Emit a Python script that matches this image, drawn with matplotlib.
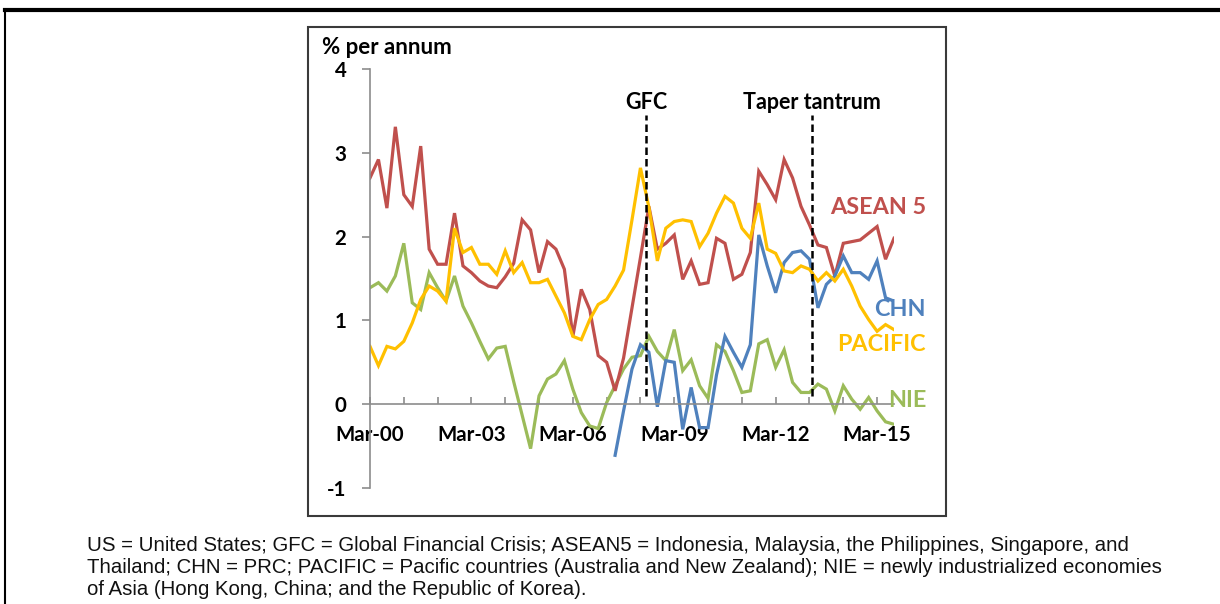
import numpy as np
import matplotlib
matplotlib.use("Agg")
import matplotlib.pyplot as plt
from matplotlib.patches import Rectangle
from matplotlib.lines import Line2D

# quarterly categories, Mar-00 .. Sep-15
months = ["Mar", "Jun", "Sep", "Dec"]
quarters = [f"{m}-{y % 100:02d}" for y in range(2000, 2016) for m in months][:63]
tick_labels = ["Mar-00", "Mar-03", "Mar-06", "Mar-09", "Mar-12", "Mar-15"]

asean5 = [2.70, 2.92, 2.34, 3.31, 2.50, 2.36, 3.08, 1.85, 1.67, 1.67,
          2.28, 1.65, 1.57, 1.47, 1.41, 1.39, 1.52, 1.68, 2.20, 2.08,
          1.57, 1.94, 1.85, 1.61, 0.81, 1.37, 1.13, 0.58, 0.50, 0.16,
          0.55, 1.15, 1.75, 2.36, 1.85, 1.92, 2.02, 1.49, 1.71, 1.43,
          1.45, 1.98, 1.92, 1.49, 1.55, 1.81, 2.78, 2.62, 2.44, 2.92,
          2.70, 2.36, 2.14, 1.90, 1.87, 1.53, 1.92, 1.94, 1.96, 2.04,
          2.12, 1.73, 1.98]
pacific = [0.69, 0.46, 0.69, 0.66, 0.75, 0.97, 1.25, 1.41, 1.35, 1.23,
           2.10, 1.81, 1.87, 1.67, 1.67, 1.55, 1.83, 1.57, 1.69, 1.45,
           1.45, 1.49, 1.29, 1.09, 0.81, 0.77, 1.01, 1.19, 1.25, 1.41,
           1.60, 2.20, 2.82, 2.35, 1.71, 2.10, 2.18, 2.20, 2.18, 1.88,
           2.04, 2.28, 2.48, 2.40, 2.10, 1.98, 2.40, 1.85, 1.80, 1.59,
           1.57, 1.65, 1.61, 1.47, 1.57, 1.47, 1.61, 1.41, 1.17, 1.01,
           0.87, 0.95, 0.89]
nie = [1.39, 1.45, 1.35, 1.53, 1.92, 1.21, 1.13, 1.57, 1.39, 1.23,
       1.53, 1.17, 0.97, 0.75, 0.54, 0.67, 0.69, 0.27, -0.13, -0.53,
       0.10, 0.30, 0.36, 0.52, 0.18, -0.10, -0.26, -0.29, 0.02, 0.22,
       0.42, 0.56, 0.58, 0.81, 0.63, 0.52, 0.89, 0.40, 0.53, 0.22,
       0.07, 0.71, 0.63, 0.40, 0.14, 0.16, 0.72, 0.77, 0.44, 0.65,
       0.26, 0.14, 0.14, 0.24, 0.18, -0.08, 0.22, 0.06, -0.06, 0.08,
       -0.08, -0.21, -0.24]
# CHN series starts in Jun-07
chn = [np.nan] * 29 + [-0.61, -0.08, 0.42, 0.71, 0.62, -0.03, 0.52, 0.50,
                       -0.30, 0.20, -0.28, -0.28, 0.35, 0.81, 0.62, 0.44,
                       0.71, 2.02, 1.65, 1.33, 1.69, 1.81, 1.83, 1.73, 1.15,
                       1.43, 1.53, 1.77, 1.57, 1.57, 1.49, 1.71, 1.27, 1.23]

events = {"GFC": 32.7, "Taper tantrum": 52.3}

series = [
    ("NIE", nie, "#9BBB59", 0.04),
    ("ASEAN 5", asean5, "#C0504D", 2.35),
    ("CHN", chn, "#4F81BD", 1.13),
    ("PACIFIC", pacific, "#FFC000", 0.71),
]

footnote_lines = [
    "US = United States; GFC = Global Financial Crisis; ASEAN5 = Indonesia, Malaysia, the Philippines, Singapore, and",
    "Thailand; CHN = PRC; PACIFIC = Pacific countries (Australia and New Zealand); NIE = newly industrialized economies",
    "of Asia (Hong Kong, China; and the Republic of Korea).",
]

W, H = 1220, 604
fig = plt.figure(figsize=(W / 100, H / 100), dpi=100)
ax = fig.add_axes([370 / W, 1 - 488 / H, (894 - 370) / W, (488 - 69) / H])

x = np.arange(len(quarters))
for name, vals, col, ly in series:
    ax.plot(x, vals, color=col, lw=2.3, solid_joinstyle="miter")
    ax.text(65.8, ly, name, color=col, fontsize=16.8, fontweight="bold",
            family="Lato", ha="right", va="center", clip_on=False)

for name, xe in events.items():
    ax.plot([xe, xe], [0.1, 3.45], color="black", lw=1.8, ls=(0, (3, 1.6)))
    ax.text(xe, 3.6, name, fontsize=15.5, fontweight="bold", family="Lato",
            ha="center", va="center")

ax.set_xlim(0, len(quarters) - 1)
ax.set_ylim(-1, 4)
ax.set_yticks([-1, 0, 1, 2, 3, 4])
ax.set_yticklabels(["-1", "0", "1", "2", "3", "4"])
ax.set_xticks([quarters.index(t) for t in tick_labels])
ax.set_xticklabels(tick_labels)
ax.set_xticks(range(0, len(quarters), 4), minor=True)

ax.spines["top"].set_visible(False)
ax.spines["right"].set_visible(False)
ax.spines["bottom"].set_position(("data", 0))
for s in ("left", "bottom"):
    ax.spines[s].set_color("#8C8C8C")
    ax.spines[s].set_linewidth(1.2)

ax.tick_params(axis="y", direction="out", length=6, width=1.2, color="#8C8C8C", pad=11)
ax.tick_params(axis="x", which="both", direction="in", length=5, width=1.2,
               color="#8C8C8C", pad=15)
for lab in ax.get_xticklabels() + ax.get_yticklabels():
    lab.set_family("Lato")
    lab.set_fontweight("bold")
    lab.set_fontsize(14.8)

fig.text(322 / W, 1 - 48 / H, "% per annum", fontsize=16, fontweight="bold",
         family="Lato", ha="left", va="center")

# chart box and page frame
fig.patches.append(Rectangle((308 / W, 1 - 516 / H), (946 - 308) / W, (516 - 27) / H,
                             transform=fig.transFigure, fill=False,
                             edgecolor="#3A3A3A", lw=1.5))
fig.lines.append(Line2D([5 / W, 1], [1 - 10 / H, 1 - 10 / H], transform=fig.transFigure,
                        color="black", lw=3))
fig.lines.append(Line2D([5 / W, 5 / W], [0, 1 - 10 / H], transform=fig.transFigure,
                        color="black", lw=1.5))

# footnote, one text per line
baselines = [551, 573, 595]
for line, yb in zip(footnote_lines, baselines):
    fig.text(87 / W, 1 - yb / H, line, fontsize=14.7, family="Liberation Sans",
             ha="left", va="baseline", color="#111111")

fig.savefig("out.png", dpi=100)
